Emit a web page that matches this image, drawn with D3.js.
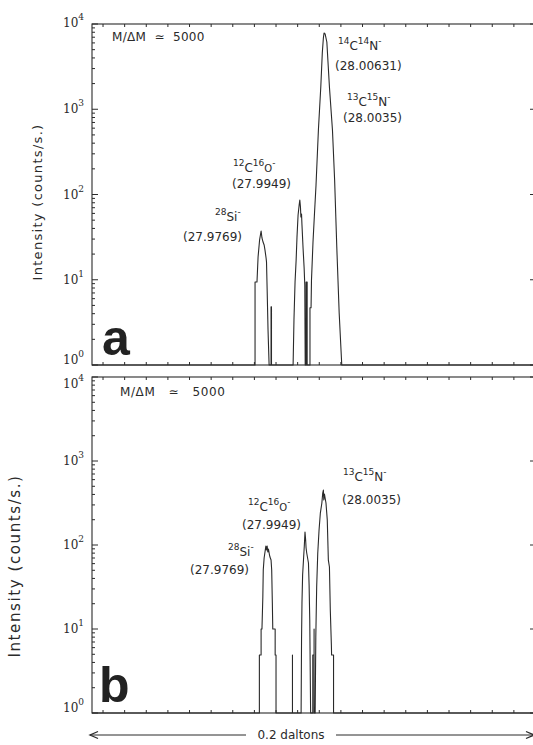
<!DOCTYPE html>
<html>
<head>
<meta charset="utf-8">
<script src="https://cdn.jsdelivr.net/npm/d3@7"></script>
<style>
  body { margin: 0; background: #fff; }
</style>
</head>
<body>
<div id="viz"></div>
<script>
// trace of spectrum a : [mass (Da), counts/s]
const traceA = [
  [27.9742, 1], [27.9742, 9.4], [27.9751, 9.4], [27.9756, 18.5], [27.9763, 29.3],
  [27.9770, 37.3], [27.9774, 30.9], [27.9779, 27.7], [27.9784, 25.6], [27.9788, 22.3],
  [27.9793, 18.0], [27.9795, 16.2], [27.9798, 7.6], [27.9802, 2.6], [27.9807, 1],
  [27.9816, 1], [27.9816, 4.8], [27.9818, 4.8], [27.9818, 1],
  [27.9918, 1], [27.9922, 3.4], [27.9927, 9.4], [27.9932, 17.0], [27.9936, 31.7],
  [27.9941, 57.5], [27.9946, 75.3], [27.9949, 86.2], [27.9952, 71.3], [27.9954, 54.5],
  [27.9957, 59.0], [27.9959, 43.9], [27.9964, 23.6], [27.9969, 13.7], [27.9972, 8.7],
  [27.9974, 1],
  [27.9978, 1], [27.9978, 9.4], [27.9983, 9.4], [27.9983, 1],
  [27.9996, 1], [27.9996, 4.7], [28.0001, 4.7], [28.0003, 9.9], [28.0010, 27.7],
  [28.0017, 60.7], [28.0024, 129], [28.0035, 571], [28.0046, 1824], [28.0053, 4570],
  [28.0058, 6850], [28.0061, 7840], [28.0066, 7640], [28.0074, 6150], [28.0086, 1824],
  [28.0100, 571], [28.0110, 148], [28.0120, 24.2], [28.0131, 4.1], [28.0143, 1]
];

// trace of spectrum b
const traceB = [
  [27.9739, 1], [27.9739, 4.9], [27.9747, 4.9], [27.9747, 10.0], [27.9751, 10.0],
  [27.9755, 24.0], [27.9757, 50.4], [27.9761, 70.0], [27.9765, 82.5], [27.9769, 97.3],
  [27.9771, 87.1], [27.9775, 97.3], [27.9778, 82.5], [27.9781, 89.6], [27.9785, 78.1],
  [27.9788, 71.9], [27.9793, 66.2], [27.9796, 50.4], [27.9799, 20.4], [27.9801, 10.0],
  [27.9812, 10.0], [27.9812, 4.9], [27.9816, 4.9], [27.9816, 1],
  [27.9892, 1], [27.9892, 4.9], [27.9892, 1],
  [27.9932, 1], [27.9934, 7.4], [27.9936, 20.4], [27.9939, 44.0], [27.9943, 66.2],
  [27.9947, 100], [27.9950, 142.8], [27.9953, 114.7], [27.9955, 92.1], [27.9958, 80.3],
  [27.9962, 70.0], [27.9966, 61.1], [27.9969, 33.4], [27.9972, 12.8], [27.9976, 1],
  [27.9986, 1], [27.9986, 4.9], [27.9992, 4.9], [27.9992, 10], [27.9992, 1],
  [27.9997, 1], [28.0000, 8.0], [28.0004, 31.6], [28.0009, 80.3], [28.0015, 151],
  [28.0021, 240], [28.0028, 316], [28.0032, 416], [28.0035, 451], [28.0037, 343],
  [28.0040, 405], [28.0043, 363], [28.0047, 316], [28.0053, 199], [28.0058, 66],
  [28.0063, 54.7], [28.0067, 16.8], [28.0072, 6.4], [28.0073, 4.9], [28.0082, 4.9],
  [28.0082, 1]
];

const massDomainA = [27.8988, 28.1032];
const massDomainB = [27.8965, 28.1009];
const countDomain = [1, 10000];
const tickStartA = 27.9039;   // chart-paper ticks, one every 0.01 Da
const tickStartB = 27.9016;

// ion labels: [text, 1 = superscript]
const ionCN14 = [["14", 1], ["C", 0], ["14", 1], ["N", 0], ["-", 1]];
const ionCN13 = [["13", 1], ["C", 0], ["15", 1], ["N", 0], ["-", 1]];
const ionCO = [["12", 1], ["C", 0], ["16", 1], ["O", 2], ["-", 1]];
const ionSi = [["28", 1], ["Si", 0], ["-", 1]];
const massLabels = ["(28.00631)", "(28.0035)", "(27.9949)", "(27.9769)"];

const W = 533, H = 745;
const svg = d3.select("#viz").append("svg")
  .attr("width", W)
  .attr("height", H)
  .style("background-color", "#fff");

const ink = "#2a2a2a";
const labelFont = "DejaVu Sans";

function ionLabel(x, y, parts) {
  const t = svg.append("text")
    .attr("x", x).attr("y", y)
    .attr("font-family", labelFont)
    .attr("font-size", "12px")
    .attr("fill", ink);
  let shift = 0;
  parts.forEach(([s, kind]) => {
    const target = kind === 1 ? -6 : 0;
    t.append("tspan")
      .attr("dy", target - shift)
      .attr("font-size", kind === 1 ? "9px" : kind === 2 ? "10px" : "12px")
      .text(s);
    shift = target;
  });
}

function plainLabel(x, y, s, size, spacing) {
  svg.append("text")
    .attr("x", x).attr("y", y)
    .attr("font-family", labelFont)
    .attr("font-size", size || "12px")
    .attr("letter-spacing", spacing || 0)
    .attr("fill", ink)
    .style("white-space", "pre")
    .text(s);
}

function panel(trace, massDomain, tickStart, top, bottom, topLabelDy) {
  const left = 92, right = 534;
  const x = d3.scaleLinear().domain(massDomain).range([left, right]);
  const y = d3.scaleLog().domain(countDomain).range([bottom, top]);

  const g = svg.append("g");

  // frame
  g.append("rect")
    .attr("x", left).attr("y", top)
    .attr("width", right - left).attr("height", bottom - top)
    .attr("fill", "none")
    .attr("stroke", ink)
    .attr("stroke-width", 1.1);

  // x ticks, top and bottom, pointing in
  const xt = d3.range(tickStart, massDomain[1], 0.01);
  g.append("g").selectAll("line")
    .data(xt).join("line")
    .attr("x1", d => x(d)).attr("x2", d => x(d))
    .attr("y1", bottom).attr("y2", bottom - 3)
    .attr("stroke", ink);
  g.append("g").selectAll("line")
    .data(xt).join("line")
    .attr("x1", d => x(d)).attr("x2", d => x(d))
    .attr("y1", top).attr("y2", top + 3)
    .attr("stroke", ink);

  // y ticks, log minor + decades
  const yt = y.ticks();
  const isMajor = d => Math.abs(Math.log10(d) - Math.round(Math.log10(d))) < 1e-9;
  g.append("g").selectAll("line")
    .data(yt).join("line")
    .attr("x1", left).attr("x2", d => left + (isMajor(d) ? 6 : 3))
    .attr("y1", d => y(d)).attr("y2", d => y(d))
    .attr("stroke", ink);
  g.append("g").selectAll("line")
    .data(yt.filter(isMajor)).join("line")
    .attr("x1", right).attr("x2", right - 4)
    .attr("y1", d => y(d)).attr("y2", d => y(d))
    .attr("stroke", ink);

  // decade labels 10^n
  const lab = g.append("g").selectAll("text")
    .data(yt.filter(isMajor)).join("text")
    .attr("x", 63)
    .attr("y", d => y(d) + (d === 1 ? -1 : d === countDomain[1] ? topLabelDy : 4))
    .attr("font-family", "DejaVu Serif")
    .attr("font-size", "12px")
    .attr("fill", ink);
  lab.append("tspan").text("10");
  lab.append("tspan")
    .attr("dy", -7)
    .attr("font-size", "9px")
    .text(d => Math.round(Math.log10(d)));

  // spectrum trace, padded with baseline to both frame edges
  const pts = [[massDomain[0], 1], ...trace, [massDomain[1], 1]];
  const line = d3.line()
    .x(d => x(d[0]))
    .y(d => y(Math.max(1, d[1])));
  g.append("path")
    .datum(pts)
    .attr("d", line)
    .attr("fill", "none")
    .attr("stroke", ink)
    .attr("stroke-width", 1.1)
    .attr("stroke-linejoin", "round");

  return { x, y };
}

panel(traceA, massDomainA, tickStartA, 24, 365, 3);
panel(traceB, massDomainB, tickStartB, 377, 713, 11);

// panel a annotations
plainLabel(112, 41, "M/\u0394M  \u2243  5000", "12px", "0.3px");
ionLabel(338, 50, ionCN14);
plainLabel(335, 70, massLabels[0]);
ionLabel(347, 106, ionCN13);
plainLabel(343, 122, massLabels[1]);
ionLabel(233, 172, ionCO);
plainLabel(232, 188, massLabels[2]);
ionLabel(215, 221, ionSi);
plainLabel(183, 241, massLabels[3]);

// panel b annotations
plainLabel(120, 396, "M/\u0394M   \u2243   5000", "12px", "0.6px");
ionLabel(343, 481, ionCN13);
plainLabel(342, 504, massLabels[1]);
ionLabel(248, 511, ionCO);
plainLabel(242, 529, massLabels[2]);
ionLabel(228, 556, ionSi);
plainLabel(190, 574, massLabels[3]);

// panel letters
svg.append("text").attr("x", 102).attr("y", 355)
  .attr("font-family", "Liberation Sans").attr("font-weight", "bold")
  .attr("font-size", "50px").attr("fill", "#222").text("a");
svg.append("text").attr("x", 99).attr("y", 702)
  .attr("font-family", "Liberation Sans").attr("font-weight", "bold")
  .attr("font-size", "50px").attr("fill", "#222").text("b");

// y axis titles
svg.append("text")
  .attr("transform", "translate(42, 202) rotate(-90)")
  .attr("text-anchor", "middle")
  .attr("font-family", labelFont).attr("font-size", "13px")
  .attr("letter-spacing", "1.3px")
  .attr("fill", ink)
  .text("Intensity (counts/s.)");
svg.append("text")
  .attr("transform", "translate(20, 566) rotate(-90)")
  .attr("text-anchor", "middle")
  .attr("font-family", labelFont).attr("font-size", "15px")
  .attr("letter-spacing", "1.6px")
  .attr("fill", ink)
  .text("Intensity (counts/s.)");

// 0.2 daltons span arrow
const arrowY = 735;
svg.append("line").attr("x1", 90).attr("x2", 246)
  .attr("y1", arrowY).attr("y2", arrowY).attr("stroke", ink);
svg.append("line").attr("x1", 336).attr("x2", 533)
  .attr("y1", arrowY).attr("y2", arrowY).attr("stroke", ink);
svg.append("path").attr("d", `M98,${arrowY - 3.5} L90,${arrowY} L98,${arrowY + 3.5}`)
  .attr("fill", "none").attr("stroke", ink).attr("stroke-width", 1.3);
svg.append("path").attr("d", `M526,${arrowY - 3.5} L534,${arrowY} L526,${arrowY + 3.5}`)
  .attr("fill", "none").attr("stroke", ink).attr("stroke-width", 1.3);
svg.append("text").attr("x", 291).attr("y", 739)
  .attr("text-anchor", "middle")
  .attr("font-family", labelFont).attr("font-size", "12px")
  .attr("fill", ink)
  .text("0.2 daltons");
</script>
</body>
</html>
